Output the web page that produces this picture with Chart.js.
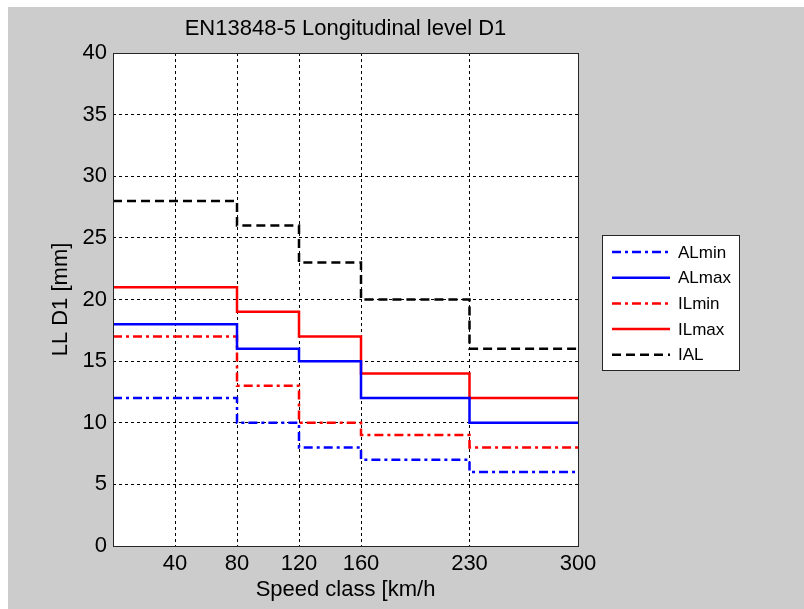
<!DOCTYPE html>
<html>
<head>
<meta charset="utf-8">
<script src="https://cdn.jsdelivr.net/npm/chart.js@4.4.1/dist/chart.umd.min.js"></script>
<style>
  body { margin: 0; background: #fff; }
  #wrap { position: absolute; left: 8px; top: 7px; width: 796px; height: 602px; background: #cccccc; }
</style>
</head>
<body>
<div id="wrap"><canvas id="ll" width="796" height="602"></canvas></div>
<script>
// speed class boundaries (km/h), last one closes the final step
const speedBreaks = [0, 80, 120, 160, 230, 300];
const xTicks = [40, 80, 120, 160, 230, 300];

// value at each boundary: class value up to that speed (first = start value)
const alMin = [12, 12, 10, 8, 7, 6];
const alMax = [18, 18, 16, 15, 12, 10];
const ilMin = [17, 17, 13, 10, 9, 8];
const ilMax = [21, 21, 19, 17, 14, 12];
const ial = [28, 28, 26, 23, 20, 16];

const FONT = '"Liberation Sans", Arial, sans-serif';

function series(label, vals, color, dash) {
    return {
        label: label,
        data: speedBreaks.map((x, i) => ({ x: x, y: vals[i] })),
        borderColor: color,
        backgroundColor: color,
        borderWidth: 2.5,
        borderDash: dash,
        stepped: 'after',
        pointRadius: 0,
        fill: false
    };
}

const dashDot = [9, 4, 3, 4];
const dashed = [9, 5];

// white plot area, frame, title and boxed legend like the matlab figure
const matlabLook = {
    id: 'matlabLook',
    beforeDraw(chart) {
        const { ctx, chartArea: a } = chart;
        ctx.save();
        ctx.fillStyle = '#fff';
        ctx.fillRect(a.left, a.top, a.right - a.left, a.bottom - a.top);
        ctx.restore();
    },
    afterDraw(chart) {
        const { ctx, chartArea: a } = chart;
        ctx.save();
        ctx.strokeStyle = '#262626';
        ctx.lineWidth = 1;
        ctx.setLineDash([]);
        ctx.strokeRect(a.left + 0.5, a.top + 0.5, a.right - a.left, a.bottom - a.top);

        ctx.fillStyle = '#000';
        ctx.font = '22px ' + FONT;
        ctx.textAlign = 'center';
        ctx.textBaseline = 'middle';
        ctx.fillText('EN13848-5 Longitudinal level D1', (a.left + a.right) / 2, 22);

        // legend
        const bx = 594, by = 228, bw = 137, bh = 135;
        ctx.fillStyle = '#fff';
        ctx.fillRect(bx, by, bw, bh);
        ctx.strokeStyle = '#262626';
        ctx.strokeRect(bx + 0.5, by + 0.5, bw, bh);
        ctx.font = '17px ' + FONT;
        ctx.textAlign = 'left';
        chart.data.datasets.forEach((ds, i) => {
            const y = by + 17 + i * 25.7;
            ctx.strokeStyle = ds.borderColor;
            ctx.lineWidth = 2.5;
            ctx.setLineDash(ds.borderDash);
            ctx.beginPath();
            ctx.moveTo(bx + 10, y);
            ctx.lineTo(bx + 68, y);
            ctx.stroke();
            ctx.setLineDash([]);
            ctx.fillStyle = '#000';
            ctx.fillText(ds.label, bx + 76, y + 1);
        });
        ctx.restore();
    }
};

new Chart(document.getElementById('ll'), {
    type: 'line',
    data: {
        datasets: [
            series('ALmin', alMin, '#0000ff', dashDot),
            series('ALmax', alMax, '#0000ff', []),
            series('ILmin', ilMin, '#ff0000', dashDot),
            series('ILmax', ilMax, '#ff0000', []),
            series('IAL', ial, '#000000', dashed)
        ]
    },
    options: {
        responsive: false,
        animation: false,
        layout: { padding: { top: 46, right: 226, left: 0, bottom: 0 } },
        plugins: {
            legend: { display: false },
            tooltip: { enabled: false }
        },
        scales: {
            x: {
                type: 'linear',
                min: 0,
                max: 300,
                afterBuildTicks: (scale) => { scale.ticks = xTicks.map(v => ({ value: v })); },
                afterFit: (scale) => { scale.height = 63; },
                grid: { color: '#000', lineWidth: 1, drawTicks: false },
                border: { display: false, dash: [3, 3] },
                ticks: { color: '#000', font: { family: FONT, size: 22 }, padding: 5, maxRotation: 0 },
                title: { display: true, text: 'Speed class [km/h', color: '#000', font: { family: FONT, size: 22 }, padding: { bottom: 6 } }
            },
            y: {
                min: 0,
                max: 40,
                afterFit: (scale) => { scale.width = 105; },
                ticks: { stepSize: 5, color: '#000', font: { family: FONT, size: 22 }, padding: 6 },
                grid: { color: '#000', lineWidth: 1, drawTicks: false },
                border: { display: false, dash: [3, 3] },
                title: { display: true, text: 'LL D1 [mm]', color: '#000', font: { family: FONT, size: 22 }, padding: { top: 40 } }
            }
        }
    },
    plugins: [matlabLook]
});
</script>
</body>
</html>
